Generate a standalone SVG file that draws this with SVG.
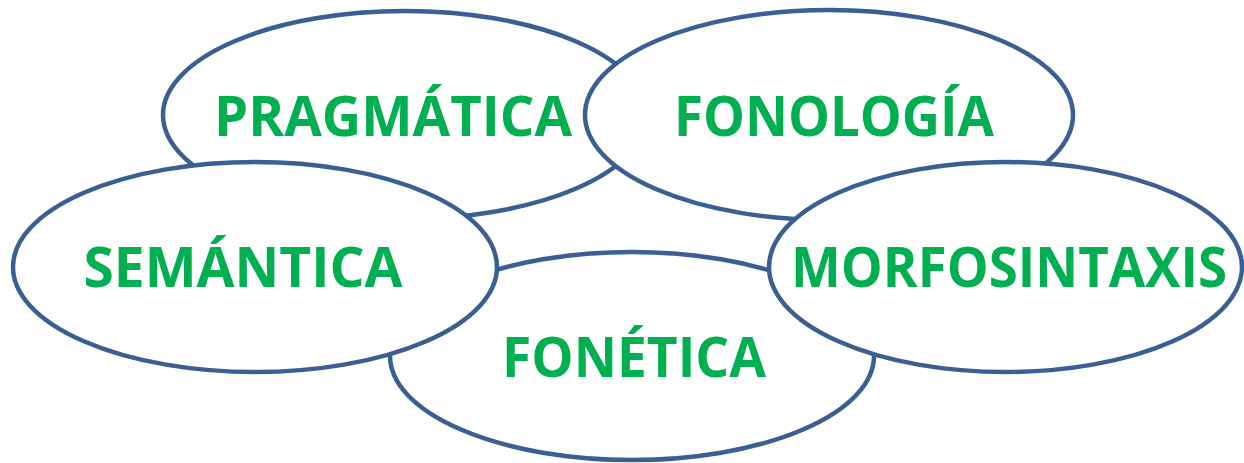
<svg xmlns="http://www.w3.org/2000/svg" width="1244" height="463" viewBox="0 0 1244 463">
<style>
.e{fill:#ffffff;stroke:#3A5F93;stroke-width:4.5}
.t{font-family:"Open Sans","Liberation Sans",sans-serif;font-weight:700;font-size:56px;fill:#00B050;text-anchor:middle}
</style>
<rect width="1244" height="463" fill="#ffffff"/>
<g id="pragmatica">
<ellipse class="e" cx="405" cy="115" rx="242" ry="104"/>
<text class="t" x="393" y="136" textLength="358" lengthAdjust="spacingAndGlyphs">PRAGMÁTICA</text>
</g>
<g id="fonologia">
<ellipse class="e" cx="829" cy="115" rx="244" ry="105"/>
<text class="t" x="834" y="136" textLength="320" lengthAdjust="spacingAndGlyphs">FONOLOGÍA</text>
</g>
<g id="fonetica">
<ellipse class="e" cx="632" cy="356" rx="242" ry="104"/>
<text class="t" x="634" y="377" textLength="264" lengthAdjust="spacingAndGlyphs">FONÉTICA</text>
</g>
<g id="semantica">
<ellipse class="e" cx="255" cy="267" rx="242" ry="105"/>
<text class="t" x="243" y="287" textLength="319" lengthAdjust="spacingAndGlyphs">SEMÁNTICA</text>
</g>
<g id="morfosintaxis">
<ellipse class="e" cx="1005.5" cy="267" rx="236.5" ry="105"/>
<text class="t" x="1009" y="287" textLength="436" lengthAdjust="spacingAndGlyphs">MORFOSINTAXIS</text>
</g>
<g id="connectors"/>
</svg>
